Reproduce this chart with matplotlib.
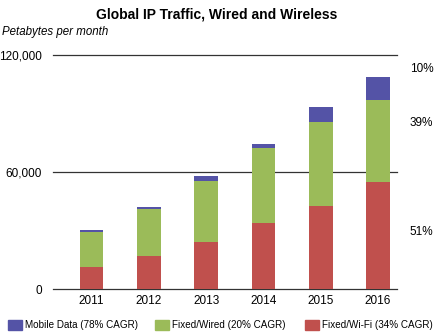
import numpy as np
import matplotlib.pyplot as plt
from matplotlib.patches import Rectangle

plt.rcParams['font.family'] = ['Liberation Sans', 'DejaVu Sans']

years = ['2011', '2012', '2013', '2014', '2015', '2016']
wifi = np.array([11300, 16900, 24100, 33900, 42700, 55000])
wired = np.array([17900, 24100, 31300, 38400, 43100, 42100])
mobile = np.array([1200, 1000, 2600, 2100, 7400, 11800])
shares = ['10%', '39%', '51%']
share_y = [113000, 85000, 29000]

c_mobile = '#5453a6'
c_wired = '#9bbb59'
c_wifi = '#c0504d'

fig = plt.figure(figsize=(4.34, 3.33), dpi=100)
ax = fig.add_axes([53 / 434, 44 / 333, 344 / 434, 234 / 333])

x = np.arange(len(years))
w = 0.41
ax.bar(x, wifi, w, color=c_wifi, zorder=2)
ax.bar(x, wired, w, bottom=wifi, color=c_wired, zorder=2)
ax.bar(x, mobile, w, bottom=wifi + wired, color=c_mobile, zorder=2)

for v in [0, 60000, 120000]:
    ax.axhline(v, color='#333333', lw=0.9, zorder=1, clip_on=False)

ax.set_xlim(-0.67, 5.33)
ax.set_ylim(0, 120000)
for s in ax.spines.values():
    s.set_visible(False)
ax.set_yticks([0, 60000, 120000])
ax.set_yticklabels(['0', '60,000', '120,000'], fontsize=8.5)
ax.set_xticks(x)
ax.set_xticklabels(years, fontsize=8.5)
ax.tick_params(length=0, pad=8)
ax.tick_params(axis='x', pad=4)

for t, yv in zip(shares, share_y):
    ax.text(5.55, yv, t, fontsize=8.5, va='center', ha='left')

fig.text(0.5, 0.955, 'Global IP Traffic, Wired and Wireless', ha='center', va='center',
         fontsize=10, fontweight='bold')
fig.text(0.005, 0.905, 'Petabytes per month', ha='left', va='center', fontsize=8.3, style='italic')

labels = ['Mobile Data (78% CAGR)', 'Fixed/Wired (20% CAGR)', 'Fixed/Wi-Fi (34% CAGR)']
colors = [c_mobile, c_wired, c_wifi]
lx = [8, 155, 305]
for px, lab, col in zip(lx, labels, colors):
    fig.patches.append(Rectangle((px / 434, 3 / 333), 14 / 434, 10 / 333, color=col,
                                 transform=fig.transFigure, figure=fig))
    fig.text((px + 17) / 434, 8 / 333, lab, ha='left', va='center', fontsize=7.1)

fig.savefig('out.png', dpi=100)
